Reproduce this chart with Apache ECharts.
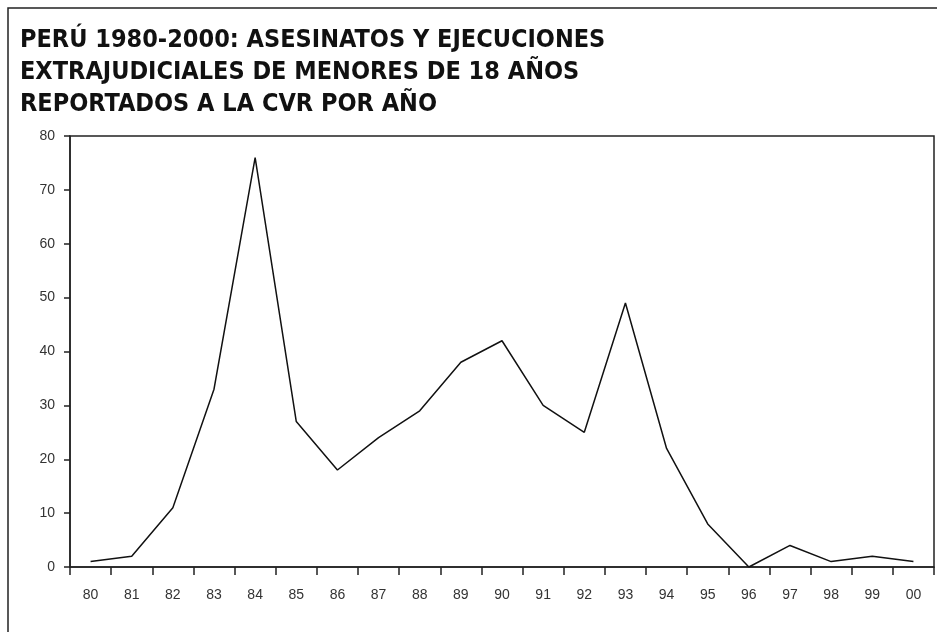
<!DOCTYPE html>
<html>
<head>
<meta charset="utf-8">
<script src="https://cdn.jsdelivr.net/npm/echarts@6/dist/echarts.min.js"></script>
<style>
  html, body { margin: 0; padding: 0; background: #fff; }
  #main { width: 937px; height: 632px; }
</style>
</head>
<body>
<div id="main"></div>
<script>
// años (categorías del eje x)
const years = ['80', '81', '82', '83', '84', '85', '86', '87', '88', '89', '90',
               '91', '92', '93', '94', '95', '96', '97', '98', '99', '00'];
// asesinatos y ejecuciones extrajudiciales de menores de 18 años
const victims = [1, 2, 11, 33, 76, 27, 18, 24, 29, 38, 42,
                 30, 25, 49, 22, 8, 0, 4, 1, 2, 1];
const titleLines = [
  'PERÚ 1980-2000: ASESINATOS Y EJECUCIONES',
  'EXTRAJUDICIALES DE MENORES DE 18 AÑOS',
  'REPORTADOS A LA CVR POR AÑO'
];

const chart = echarts.init(document.getElementById('main'));
const option = {
  backgroundColor: '#fff',
  animation: false,
  title: {
    text: titleLines.join('\n'),
    left: 15,
    top: 19,
    textStyle: {
      fontFamily: '"DejaVu Sans Condensed", sans-serif',
      fontWeight: 'bold',
      fontSize: 25,
      lineHeight: 32,
      color: '#111'
    }
  },
  // marco exterior y marco del área de trazado
  graphic: [{
    type: 'rect',
    shape: { x: 8, y: 8, width: 1200, height: 1200 },
    style: { fill: 'none', stroke: '#222', lineWidth: 1.5 }
  }, {
    type: 'rect',
    shape: { x: 70, y: 136, width: 864, height: 431 },
    style: { fill: 'none', stroke: '#222', lineWidth: 1.5 }
  }],
  grid: { left: 70, right: 3, top: 136, bottom: 65 },
  xAxis: {
    type: 'category',
    data: years,
    boundaryGap: true,
    axisLine: { lineStyle: { color: '#222', width: 1.5 } },
    axisTick: { show: true, length: 8, lineStyle: { color: '#222', width: 1.5 } },
    axisLabel: { color: '#333', fontSize: 14, margin: 21, fontFamily: 'Liberation Sans, Arial, sans-serif' }
  },
  yAxis: {
    type: 'value',
    min: 0,
    max: 80,
    interval: 10,
    axisLine: { show: true, lineStyle: { color: '#222', width: 1.5 } },
    axisTick: { show: true, length: 6, lineStyle: { color: '#222', width: 1.5 } },
    axisLabel: { color: '#333', fontSize: 14, margin: 15, fontFamily: 'Liberation Sans, Arial, sans-serif' },
    splitLine: { show: false }
  },
  series: [{
    type: 'line',
    data: victims,
    symbol: 'none',
    lineStyle: { color: '#111', width: 1.5 }
  }]
};
chart.setOption(option);
</script>
</body>
</html>
